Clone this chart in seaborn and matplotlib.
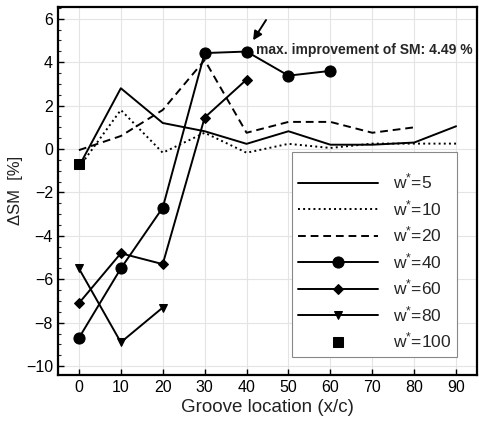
import numpy as np
import pandas as pd
import matplotlib
matplotlib.use("Agg")
import matplotlib.pyplot as plt
import seaborn as sns

sns.set_theme(style="whitegrid")
plt.rcParams['font.family'] = ['Liberation Sans', 'DejaVu Sans']
plt.rcParams['mathtext.fontset'] = 'custom'
plt.rcParams['mathtext.rm'] = 'Liberation Sans'
plt.rcParams['mathtext.it'] = 'Liberation Sans'

x_full = [0, 10, 20, 30, 40, 50, 60, 70, 80, 90]
w5 = [-0.8, 2.8, 1.2, 0.82, 0.24, 0.82, 0.2, 0.2, 0.3, 1.05]
w10 = [-0.85, 1.8, -0.17, 0.75, -0.17, 0.24, 0.05, 0.25, 0.25, 0.25]
x_w20 = [0, 10, 20, 30, 40, 50, 60, 70, 80]
w20 = [-0.05, 0.6, 1.8, 4.1, 0.75, 1.25, 1.25, 0.75, 1.0]
x_w40 = [0, 10, 20, 30, 40, 50, 60]
w40 = [-8.7, -5.5, -2.7, 4.42, 4.49, 3.38, 3.6]
x_w60 = [0, 10, 20, 30, 40]
w60 = [-7.1, -4.8, -5.3, 1.45, 3.2]
x_w80 = [0, 10, 20]
w80 = [-5.5, -8.9, -7.3]
x_w100 = [0]
w100 = [-0.7]

labels = ["w$^{*}$=5", "w$^{*}$=10", "w$^{*}$=20", "w$^{*}$=40",
          "w$^{*}$=60", "w$^{*}$=80", "w$^{*}$=100"]

fig = plt.figure(figsize=(4.79, 4.26), dpi=100)
ax = fig.add_axes([0.121, 0.12, 0.875, 0.864])

k = dict(color='black', ax=ax, linewidth=1.4)
sns.lineplot(x=x_full, y=w5, linestyle='-', label=labels[0], **k)
sns.lineplot(x=x_full, y=w10, linestyle=':', label=labels[1], **k)
sns.lineplot(x=x_w20, y=w20, linestyle=(0, (4, 2.5)), label=labels[2], **k)
sns.lineplot(x=x_w40, y=w40, linestyle='-', marker='o', markersize=8,
             markeredgecolor='black', label=labels[3], **k)
sns.lineplot(x=x_w60, y=w60, linestyle='-', marker='D', markersize=5,
             markeredgecolor='black', label=labels[4], **k)
sns.lineplot(x=x_w80, y=w80, linestyle='-', marker='v', markersize=6,
             markeredgecolor='black', label=labels[5], **k)
sns.lineplot(x=x_w100, y=w100, linestyle='none', marker='s', markersize=7,
             markeredgecolor='black', label=labels[6], **k)

ax.set_xlim(-5, 95)
ax.set_ylim(-10.4, 6.55)
ax.set_xticks(range(0, 91, 10))
ax.set_yticks(range(-10, 7, 2))
ax.set_yticks(np.arange(-10, 6.6, 0.5), minor=True)
ax.tick_params(axis='both', which='major', direction='in', length=4, width=1,
               labelsize=11.5, colors='black', left=True, bottom=True)
ax.tick_params(axis='y', which='minor', direction='in', length=2, width=0.8, left=True)
ax.grid(True, which='major', color='#e4e4e4', linewidth=0.8)
ax.set_facecolor('white')
for s in ax.spines.values():
    s.set_color('black')
    s.set_linewidth(1.6)

ax.set_xlabel("Groove location (x/c)", fontsize=13.5, color='#222222', labelpad=3)
ax.set_ylabel("ΔSM  [%]", fontsize=12, color='#222222', labelpad=2)

ax.annotate("", xy=(41.2, 4.9), xytext=(45, 6.05),
            arrowprops=dict(arrowstyle='-|>', color='black', lw=1.4,
                            mutation_scale=13), annotation_clip=False)
ax.text(42.3, 4.55, "max. improvement of SM: 4.49 %", fontsize=10,
        fontweight='bold', va='center', ha='left')

leg = ax.legend(loc='lower right', bbox_to_anchor=(0.952, 0.049), borderaxespad=0,
                fontsize=12.5, handlelength=4.6, frameon=True, fancybox=False,
                edgecolor='#888888', framealpha=1, borderpad=0.35,
                labelspacing=0.38, handletextpad=0.85,
                title=" ", title_fontsize=5)
leg.get_frame().set_linewidth(0.8)

fig.savefig("out.png", dpi=100)
